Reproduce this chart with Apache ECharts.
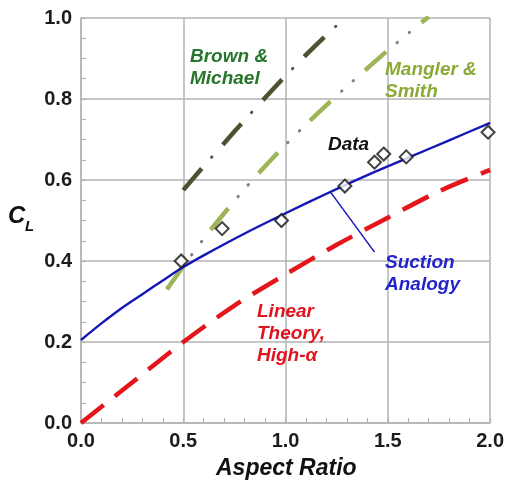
<!DOCTYPE html>
<html>
<head>
<meta charset="utf-8">
<script src="https://cdn.jsdelivr.net/npm/echarts@6/dist/echarts.min.js"></script>
<style>
  html, body { margin: 0; padding: 0; background: #ffffff; }
  #chart { width: 507px; height: 483px; }
</style>
</head>
<body>
<div id="chart"></div>
<script>
// Suction analogy prediction
const suctionAR = [0, 0.1, 0.2, 0.3, 0.4, 0.5, 0.6, 0.8, 1.0, 1.2, 1.4, 1.6, 1.8, 2.0];
const suctionCL = [0.205, 0.246, 0.284, 0.318, 0.352, 0.385, 0.414, 0.468, 0.518, 0.566, 0.612, 0.655, 0.698, 0.741];

// Linear theory, high alpha
const linearAR = [0, 0.25, 0.5, 0.75, 1.0, 1.25, 1.5, 1.75, 2.0];
const linearCL = [0, 0.1, 0.2, 0.29, 0.367, 0.44, 0.507, 0.572, 0.625];

// Brown & Michael
const brownAR = [0.5, 0.6, 0.7, 0.8, 0.9, 1.0, 1.1, 1.2, 1.3];
const brownCL = [0.575, 0.634, 0.691, 0.748, 0.803, 0.857, 0.909, 0.958, 1.005];

// Mangler & Smith
const manglerAR = [0.42, 0.5, 0.6, 0.7, 0.8, 0.9, 1.0, 1.1, 1.2, 1.3, 1.4, 1.5, 1.6, 1.7];
const manglerCL = [0.33, 0.387, 0.455, 0.518, 0.578, 0.634, 0.687, 0.737, 0.785, 0.831, 0.876, 0.92, 0.962, 1.003];

// Measured data
const dataAR = [0.49, 0.69, 0.98, 1.29, 1.435, 1.48, 1.59, 1.99];
const dataCL = [0.40, 0.48, 0.50, 0.585, 0.644, 0.664, 0.657, 0.718];

// Leader line from the suction-analogy curve to its label
const leaderAR = [1.22, 1.435];
const leaderCL = [0.57, 0.422];

// Axis ticks
const xTicks = [0, 0.5, 1.0, 1.5, 2.0];
const yTicks = [0, 0.2, 0.4, 0.6, 0.8, 1.0];

const zip = (xs, ys) => xs.map((x, i) => [x, ys[i]]);

const FONT = '"Liberation Sans", Arial, Helvetica, sans-serif';
const GRID_COLOR = '#b3b3b3';

function axisCommon(ticks) {
  return {
    type: 'value',
    min: ticks[0],
    max: ticks[ticks.length - 1],
    interval: ticks[1] - ticks[0],
    axisLine: { show: true, lineStyle: { color: GRID_COLOR, width: 1.5 } },
    axisTick: { show: true, inside: true, length: 5, lineStyle: { color: GRID_COLOR, width: 1.2 } },
    minorTick: { show: true, length: 5, lineStyle: { color: GRID_COLOR, width: 1.2 } },
    splitLine: { show: true, lineStyle: { color: GRID_COLOR, width: 1.5 } },
    axisLabel: {
      color: '#1c1c1c',
      fontFamily: FONT,
      fontWeight: 'bold',
      fontSize: 20,
      formatter: v => v.toFixed(1)
    }
  };
}

const xAxis = axisCommon(xTicks);
xAxis.minorTick.splitNumber = 5;
xAxis.axisLabel.margin = 8;

const yAxis = axisCommon(yTicks);
yAxis.minorTick.splitNumber = 4;
yAxis.axisLabel.margin = 9;

function lineSeries(xs, ys, lineStyle, z) {
  return {
    type: 'line',
    data: zip(xs, ys),
    smooth: 0.3,
    symbol: 'none',
    clip: true,
    lineStyle: lineStyle,
    z: z,
    silent: true,
    animation: false
  };
}

function textEl(text, left, top, color, size, lineHeight) {
  return {
    type: 'text',
    left: left,
    top: top,
    style: {
      text: text,
      fill: color,
      font: 'italic bold ' + size + 'px ' + FONT,
      lineHeight: lineHeight
    },
    z: 20
  };
}

const chart = echarts.init(document.getElementById('chart'), null, { renderer: 'canvas' });

chart.setOption({
  animation: false,
  backgroundColor: '#ffffff',
  grid: { left: 81, right: 15, top: 18, bottom: 60, containLabel: false },
  xAxis: xAxis,
  yAxis: yAxis,
  series: [
    lineSeries(linearAR, linearCL, { color: '#e4161c', width: 4.5, type: [29, 14] }, 3),
    lineSeries(suctionAR, suctionCL, { color: '#1616b8', width: 2.4 }, 4),
    Object.assign(lineSeries(leaderAR, leaderCL, { color: '#1616b8', width: 1.5 }, 4), { smooth: false }),
    lineSeries(brownAR, brownCL, { color: '#4b5430', width: 4.5, type: [28, 32] }, 3),
    lineSeries(brownAR, brownCL, { color: '#555555', width: 3, type: [0.5, 59.5], dashOffset: 16.5, cap: 'round' }, 3),
    lineSeries(manglerAR, manglerCL, { color: '#9db458', width: 4.5, type: [28, 46] }, 3),
    lineSeries(manglerAR, manglerCL, { color: '#808080', width: 3, type: [0.5, 15.5, 0.5, 57.5], dashOffset: 31.5, cap: 'round' }, 3),
    {
      type: 'scatter',
      data: zip(dataAR, dataCL),
      symbol: 'diamond',
      symbolSize: 13,
      itemStyle: { color: '#ffffff', borderColor: '#111111', borderWidth: 2 },
      z: 6,
      silent: true
    }
  ],
  graphic: [
    textEl('Brown &\nMichael', 190, 45.5, '#25752a', 19, 22.5),
    textEl('Mangler &\nSmith', 385, 59, '#8aaa35', 19, 22),
    textEl('Data', 328, 134, '#111111', 19, 22),
    textEl('Suction\nAnalogy', 385, 251.5, '#2323cc', 19, 22),
    textEl('Linear\nTheory,\nHigh-\u03b1', 257, 300.5, '#e0141e', 19, 22),
    {
      type: 'text', left: 8, top: 204,
      style: { text: 'C', fill: '#111111', font: 'italic bold 24px ' + FONT },
      z: 20
    },
    {
      type: 'text', left: 25, top: 219,
      style: { text: 'L', fill: '#111111', font: 'italic bold 15px ' + FONT },
      z: 20
    },
    {
      type: 'text', left: 216, top: 457,
      style: { text: 'Aspect Ratio', fill: '#111111', font: 'italic bold 23px ' + FONT },
      z: 20
    }
  ]
});
</script>
</body>
</html>
